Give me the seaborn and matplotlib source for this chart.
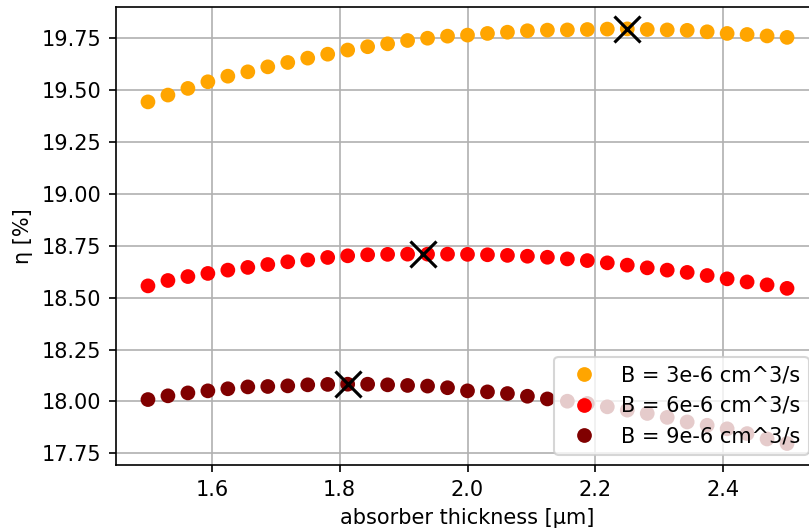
import numpy as np
import pandas as pd
import matplotlib
matplotlib.use("Agg")
import matplotlib.pyplot as plt
import seaborn as sns

# ---- data ----
thickness = [1.5 + i / 32 for i in range(33)]

eta_B3 = [19.444, 19.477, 19.509, 19.541, 19.568, 19.589, 19.613, 19.634, 19.655,
          19.674, 19.694, 19.710, 19.724, 19.740, 19.751, 19.761, 19.766, 19.774,
          19.780, 19.787, 19.790, 19.791, 19.793, 19.795, 19.796, 19.793, 19.791,
          19.789, 19.782, 19.774, 19.769, 19.762, 19.755]
eta_B6 = [18.557, 18.583, 18.602, 18.617, 18.633, 18.646, 18.660, 18.673, 18.682,
          18.694, 18.702, 18.707, 18.709, 18.710, 18.710, 18.710, 18.709, 18.707,
          18.704, 18.700, 18.695, 18.687, 18.679, 18.668, 18.657, 18.644, 18.633,
          18.622, 18.607, 18.591, 18.576, 18.562, 18.545]
eta_B9 = [18.009, 18.027, 18.041, 18.051, 18.061, 18.070, 18.072, 18.075, 18.080,
          18.082, 18.083, 18.083, 18.080, 18.077, 18.074, 18.066, 18.051, 18.046,
          18.038, 18.025, 18.012, 18.001, 17.990, 17.974, 17.958, 17.942, 17.923,
          17.901, 17.885, 17.868, 17.845, 17.819, 17.797]

labels = ["B = 3e-6 cm^3/s", "B = 6e-6 cm^3/s", "B = 9e-6 cm^3/s"]
colors = ["orange", "red", "maroon"]

opt_x = [2.25, 1.93, 1.8125]
opt_y = [19.797, 18.711, 18.083]

df = pd.DataFrame({
    "thickness": thickness * 3,
    "eta": eta_B3 + eta_B6 + eta_B9,
    "B": [labels[0]] * 33 + [labels[1]] * 33 + [labels[2]] * 33,
})
opt_df = pd.DataFrame({"thickness": opt_x, "eta": opt_y})

# ---- figure ----
DPI = 150
fig = plt.figure(figsize=(809 / DPI, 532 / DPI), dpi=DPI)
ax = fig.add_axes([116 / 809, 67 / 532, 703 / 809, 458 / 532])
ax.set_axisbelow(True)
ax.grid(True, color="#b0b0b0", linewidth=0.8)

sns.scatterplot(data=df, x="thickness", y="eta", hue="B",
                palette=dict(zip(labels, colors)), s=50, linewidth=0,
                ax=ax, zorder=2)
sns.scatterplot(data=opt_df, x="thickness", y="eta", marker="x", color="black",
                s=156, linewidth=1.5, ax=ax, zorder=3, legend=False)

ax.set_xlim(1.45, 2.55)
ax.set_ylim(17.6935, 19.9015)
ax.set_yticks([17.75, 18.0, 18.25, 18.5, 18.75, 19.0, 19.25, 19.5, 19.75])
ax.set_yticklabels(["17.75", "18.00", "18.25", "18.50", "18.75", "19.00",
                    "19.25", "19.50", "19.75"])
ax.set_xticks([1.6, 1.8, 2.0, 2.2, 2.4])
ax.set_xlabel("absorber thickness [μm]")
ax.set_ylabel("η [%]")

leg = ax.legend(loc="lower right", title=None)

fig.savefig("out.png", dpi=DPI)
